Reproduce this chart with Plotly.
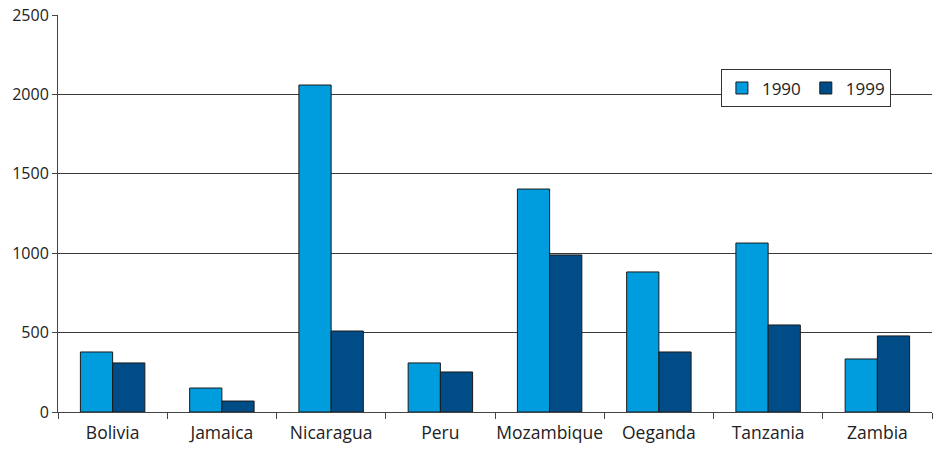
import plotly.graph_objects as go

countries = ["Bolivia", "Jamaica", "Nicaragua", "Peru", "Mozambique", "Oeganda", "Tanzania", "Zambia"]
values_1990 = [378, 151, 2059, 309, 1404, 882, 1064, 334]
values_1999 = [309, 69, 510, 252, 989, 378, 548, 479]
y_ticks = [0, 500, 1000, 1500, 2000, 2500]

font_family = "Open Sans, Lato, sans-serif"

fig = go.Figure()
fig.add_trace(go.Bar(
    name="1990", x=countries, y=values_1990,
    marker=dict(color="#009DDE", line=dict(color="#1a1a1a", width=1)),
))
fig.add_trace(go.Bar(
    name="1999", x=countries, y=values_1999,
    marker=dict(color="#004C87", line=dict(color="#1a1a1a", width=1)),
))

fig.update_layout(
    width=934, height=449,
    margin=dict(l=58, r=2, t=15, b=37),
    plot_bgcolor="white", paper_bgcolor="white",
    barmode="group", bargap=0.41, bargroupgap=0,
    font=dict(family=font_family, color="#222222"),
    legend=dict(
        orientation="h", x=0.953, y=0.815, xanchor="right", yanchor="middle",
        bgcolor="white", bordercolor="#333333", borderwidth=1,
        font=dict(size=17, family=font_family),
        tracegroupgap=0,
    ),
    xaxis=dict(
        showline=True, linecolor="#444444", linewidth=1,
        ticks="outside", tickson="boundaries", ticklen=6, tickcolor="#444444",
        tickfont=dict(size=17.5), showgrid=False,
        tickangle=0, automargin=False, ticklabelstandoff=5,
    ),
    yaxis=dict(
        range=[0, 2500], tickvals=y_ticks,
        showline=True, linecolor="#444444", linewidth=1,
        ticks="outside", ticklen=5, tickcolor="#444444",
        showgrid=True, gridcolor="#3a3a3a", gridwidth=1,
        tickfont=dict(size=16), zeroline=False, automargin=False,
    ),
)

fig.write_html("out.html")
